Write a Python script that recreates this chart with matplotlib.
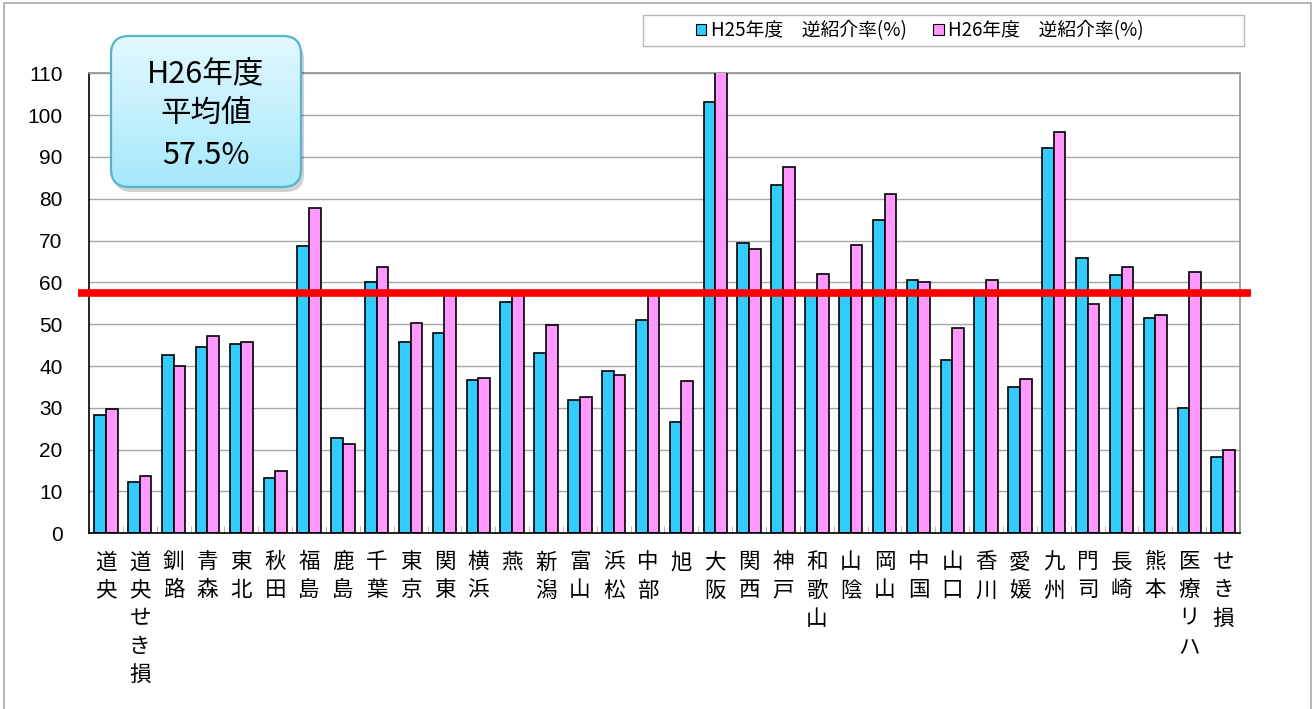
import numpy as np
import matplotlib
matplotlib.use('Agg')
from matplotlib import pyplot as plt
from matplotlib.patches import FancyBboxPatch, Rectangle, Patch
from matplotlib.lines import Line2D

plt.rcParams['font.family'] = ['Noto Sans CJK JP', 'DejaVu Sans']

# data
names = ['道央', '道央せき損', '釧路', '青森', '東北', '秋田', '福島', '鹿島', '千葉', '東京',
         '関東', '横浜', '燕', '新潟', '富山', '浜松', '中部', '旭', '大阪', '関西',
         '神戸', '和歌山', '山陰', '岡山', '中国', '山口', '香川', '愛媛', '九州', '門司',
         '長崎', '熊本', '医療リハ', 'せき損']
h25 = [28.4, 12.3, 42.7, 44.6, 45.2, 13.2, 68.6, 22.9, 60.2, 45.8,
       47.9, 36.6, 55.3, 43.1, 31.8, 38.7, 50.9, 26.7, 103.1, 69.4,
       83.3, 57.0, 58.2, 75.0, 60.6, 41.4, 57.0, 34.9, 92.2, 65.8,
       61.8, 51.5, 29.9, 18.3]
h26 = [29.7, 13.7, 40.1, 47.3, 45.8, 14.8, 77.7, 21.3, 63.7, 50.3,
       57.0, 37.2, 57.0, 49.8, 32.6, 37.9, 57.0, 36.5, 112.0, 68.0,
       87.7, 61.9, 68.9, 81.1, 60.2, 49.0, 60.6, 36.9, 96.0, 54.8,
       63.8, 52.3, 62.6, 20.0]
avg26 = 57.5
yticks = list(range(0, 111, 10))
leg_labels = ['H25年度　逆紹介率(%)', 'H26年度　逆紹介率(%)']

blue = '#33CCFF'
pink = '#FF99FF'

W, H = 1314, 709
fig = plt.figure(figsize=(W / 100, H / 100), dpi=100)
ax = fig.add_axes([89 / W, 1 - 533.3 / H, (1240 - 89) / W, (533.3 - 73.3) / H])

x = np.arange(len(names))
bw = 0.345
ax.bar(x - bw / 2, h25, bw, color=blue, edgecolor='black', linewidth=1.2, zorder=3)
ax.bar(x + bw / 2, h26, bw, color=pink, edgecolor='black', linewidth=1.2, zorder=3)

ax.set_xlim(-0.5, len(names) - 0.5)
ax.set_ylim(0, 110)
ax.set_yticks(yticks)
ax.set_yticklabels([str(v) for v in yticks], fontsize=15, family='Liberation Sans')
ax.tick_params(axis='y', length=0, pad=19)
ax.set_xticks(x)
ax.set_xticklabels(['\n'.join(n) for n in names], fontsize=15.5, linespacing=1.36, va='top')
ax.tick_params(axis='x', length=0, pad=13)
ax.set_xticks(np.arange(len(names) + 1) - 0.5, minor=True)
ax.tick_params(axis='x', which='minor', direction='in', length=5, color='#B0B0B0')

ax.grid(axis='y', color='#A6A6A6', linewidth=1, zorder=0)
for s in ['top', 'right']:
    ax.spines[s].set_color('#999999')
    ax.spines[s].set_linewidth(1.3)
for s in ['left', 'bottom']:
    ax.spines[s].set_color('black')
    ax.spines[s].set_linewidth(1.2)
ax.spines['bottom'].set_zorder(4)

# average line
ax.plot([x[0] - 0.83, x[-1] + 0.83], [avg26, avg26], color='#FF0000', linewidth=5.5,
        solid_capstyle='butt', clip_on=False, zorder=6)

# overlay in pixel coords
ov = fig.add_axes([0, 0, 1, 1], zorder=5)
ov.patch.set_alpha(0)
ov.axis('off')

# outer frame
ov.add_line(Line2D([4, 4, 1311, 1311], [709, 3, 3, 709], color='#A8A8A8', linewidth=1.2))

# legend frame + legend
ov.add_patch(Rectangle((643, 15), 601, 31, facecolor='white', edgecolor='#B8B8B8', linewidth=1))
handles = [Patch(facecolor=blue, edgecolor='black', linewidth=0.8),
           Patch(facecolor=pink, edgecolor='black', linewidth=0.8)]
fig.legend(handles, leg_labels, loc='center', bbox_to_anchor=(920 / W, 1 - 30.5 / H),
           ncol=2, frameon=False, fontsize=13.5, handlelength=0.55, handleheight=0.55,
           handletextpad=0.25, columnspacing=1.4)

# callout box
bx, by, bwid, bht = 111, 36, 190, 151
shadow = FancyBboxPatch((bx + 3, by + 5), bwid, bht, boxstyle='round,pad=0,rounding_size=18',
                        facecolor='#000000', alpha=0.18, edgecolor='none')
ov.add_patch(shadow)
box = FancyBboxPatch((bx, by), bwid, bht, boxstyle='round,pad=0,rounding_size=18',
                     facecolor='none', edgecolor='#55B4CC', linewidth=1.6, zorder=3)
ov.add_patch(box)
c1 = np.array([0xE2, 0xF8, 0xFF]) / 255
c2 = np.array([0xA6, 0xE8, 0xFA]) / 255
t = np.linspace(0, 1, 64)[:, None, None]
grad = c1 * (1 - t) + c2 * t
grad = np.repeat(grad, 4, axis=1)
im = ov.imshow(grad, extent=[bx, bx + bwid, by + bht, by], aspect='auto', zorder=2)
im.set_clip_path(box)
ov.text(bx + bwid / 2, 74, 'H26年度', ha='center', va='center', fontsize=22, zorder=4)
ov.text(bx + bwid / 2, 113, '平均値', ha='center', va='center', fontsize=22, zorder=4)
ov.text(bx + bwid / 2, 155, f'{avg26}%', ha='center', va='center', fontsize=22, zorder=4)

ov.set_xlim(0, W)
ov.set_ylim(H, 0)

fig.savefig('out.png', dpi=100)
